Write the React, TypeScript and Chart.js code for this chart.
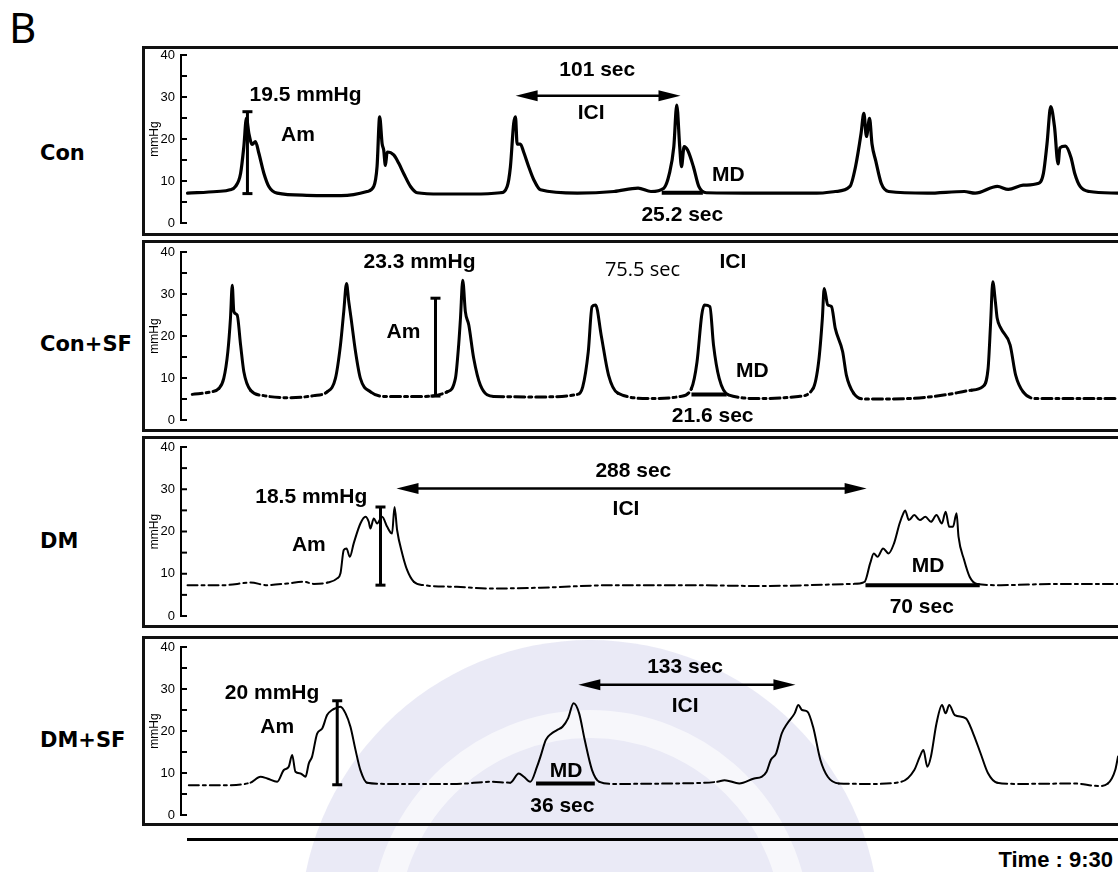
import React, { useEffect, useRef } from "react";
import { Chart, registerables } from "chart.js";

Chart.register(...registerables);

type Pt = [number, number];

// Intraluminal pressure recordings: [time (s), pressure (mmHg)]
const conTrace: Pt[] = [
  [0, 7.1], [18, 7.5], [26, 7.9], [29.4, 8.7], [32.5, 11.8], [34.5, 18.2], [36.1, 25], [37.6, 21.3],
  [39.6, 18.7], [41.6, 19.4], [43.7, 16.6], [46.8, 11.8], [49.8, 8.7], [54.9, 7.1], [73, 6.6], [94, 6.5],
  [110, 7.5], [114.1, 8.7], [116.1, 13.4], [117.7, 25.3], [119.2, 18.9], [120.2, 17.3], [121.2, 13.7],
  [122.3, 16.9], [126.3, 16.2], [129.4, 14.2], [132.4, 11.8], [136.6, 8.7], [140.7, 7.2], [155, 6.9],
  [175, 6.9], [191.7, 7.2], [195.8, 8.7], [197.8, 13.4], [199.8, 23.7], [200.9, 25.3], [201.9, 18.8],
  [203.9, 18.8], [205.9, 16.9], [209, 13.4], [212.1, 10.3], [216.2, 7.9], [238.8, 7.1], [261.3, 7.5],
  [276, 8.3], [283.9, 7.5], [291.8, 8.3], [295.2, 11.8], [297.9, 18.2], [299.7, 28.1], [301.5, 18.2],
  [302.6, 13.4], [304.2, 18.2], [306.4, 17.3], [309.9, 13.4], [313.2, 8.7], [317.8, 7.2], [351.6, 7.1],
  [385.5, 7.1], [396.8, 7.5], [405.8, 8.7], [409.2, 13.4], [412.6, 21.3], [414.3, 26.1], [415.9, 20.6],
  [417.8, 24.9], [419.3, 18.8], [421.6, 14.8], [425, 9.4], [429.5, 7.5], [453.2, 7.1], [475.8, 7.5],
  [482.5, 7.1], [496.1, 8.7], [502.8, 8.0], [511.9, 9.0], [520.9, 9.4], [524.3, 11.8], [526.5, 18.8],
  [528.8, 27.7], [531.1, 22.9], [533.3, 14.1], [534.4, 17.9], [537.8, 18.3], [541.2, 15.6], [543.5, 11.8],
  [546.8, 8.7], [552.5, 7.5], [570, 7.1],
];

const conSfTrace: Pt[] = [
  [2.9, 6.1], [14.1, 6.7], [19.2, 7.5], [22.2, 9.9], [24.7, 16.3], [26.3, 24.2], [27.4, 32.1], [28.4, 25.8],
  [30.4, 25], [32.5, 17.9], [34.5, 11.5], [38.6, 7.1], [46.7, 5.8], [63.1, 5.3], [77.3, 5.8], [85.5, 6.7],
  [90.6, 9.9], [93.7, 17.9], [95.7, 25.8], [97.4, 32.5], [98.8, 28.1], [100.2, 24.2], [102.9, 16.3],
  [105.9, 9.9], [112.1, 6.7], [122.3, 5.6], [144.7, 5.6], [159, 6.7], [164.1, 9.9], [166.1, 17.9],
  [167.2, 24.2], [168.6, 33.3], [170.2, 25.8], [172.3, 22.6], [175.3, 14.7], [179.4, 8.3], [187.6, 5.6],
  [216.2, 5.5], [238.8, 6.1], [242.1, 7.9], [245.5, 16.3], [247.8, 27], [250, 27.4], [253.4, 20.2],
  [257.9, 10.7], [263.6, 6.4], [283.9, 5.1], [301.9, 5.6], [308.7, 7.5], [312.1, 13.8], [315, 25],
  [316.6, 27.4], [320, 27], [322.2, 17.9], [325.7, 9.9], [331.3, 6], [351.6, 5.1], [374.2, 5.6],
  [383.2, 7.5], [386.6, 13.8], [388.9, 24.2], [390, 31.3], [392.2, 27.4], [394.5, 27], [396.8, 21.8],
  [401.3, 16.3], [403.6, 10.7], [408, 6.4], [414.8, 5], [441.9, 5.1], [464.4, 6], [480.2, 7.1], [487, 7.9],
  [490.4, 12.2], [492, 23.4], [493.3, 32.9], [494.9, 28.1], [496, 24.2], [498.3, 21.8], [503.9, 17.9],
  [507.3, 10.7], [511.9, 6.7], [520.9, 5.1], [570, 5.1],
];

const dmTrace: Pt[] = [
  [0, 7.3], [22.2, 7.3], [38.6, 7.9], [48.8, 7.3], [61.1, 7.7], [71.2, 8.1], [77.3, 7.6], [85.5, 7.9],
  [91.7, 8.9], [93.7, 10.1], [95.7, 15.6], [97.4, 16], [99.4, 14], [101.8, 17.2], [105.9, 21.9],
  [109, 23.5], [111, 22.3], [112, 20.7], [114.1, 23.1], [116.1, 21.9], [119.2, 23.5], [122.3, 21.1],
  [125.3, 19.5], [126.8, 25.8], [128.4, 20.3], [131.5, 14.8], [134.5, 10.9], [138.6, 8.1], [144.7, 7.3],
  [165, 6.9], [185.6, 6.5], [216.2, 6.7], [261.3, 7.3], [306.4, 7.3], [351.6, 7.1], [408, 7.6],
  [414.8, 8.1], [418.2, 12.5], [420.4, 14.8], [422.7, 14], [426.1, 16], [429.4, 14.8], [432.8, 17.2],
  [436.2, 21.9], [438.5, 24.3], [439.6, 25], [441.9, 22.7], [445.2, 23.9], [448.6, 22.7], [452, 23.5],
  [455.4, 22.3], [458.8, 23.9], [462.1, 21.9], [464.4, 24.7], [466.6, 21.1], [468.9, 21.1], [471.1, 24.3],
  [472.3, 18.8], [475.7, 13.3], [479.1, 9.3], [483.6, 7.6], [498.3, 7.3], [532.2, 7.6], [570, 7.6],
];

const dmSfTrace: Pt[] = [
  [0.8, 7.1], [22.2, 7.1], [38.6, 7.7], [44.7, 9.1], [48.8, 8.7], [54.9, 7.9], [59, 10.7], [62, 11.5],
  [64.1, 14.3], [66.1, 10.3], [69.2, 9.9], [72.3, 9.1], [74.3, 12.3], [76.3, 13.9], [79.4, 19.4],
  [82.5, 20.6], [85.5, 23.8], [88.6, 25], [90.6, 25.4], [93.7, 25.8], [96.8, 24.2], [99.8, 21],
  [102.9, 15.5], [105.9, 10.7], [110, 7.7], [124.3, 7.4], [165, 7.4], [185.6, 7.9], [197.8, 7.7],
  [202.9, 9.9], [206, 9.1], [210, 7.9], [214.1, 11.5], [216.2, 13.9], [219.5, 17.9], [223, 19.4],
  [226.3, 20.2], [229.7, 21], [233.1, 23], [236.5, 26.6], [239.9, 24.2], [243.3, 17.9], [247.8, 10.7],
  [252.3, 7.9], [261.3, 7.4], [295.2, 7.5], [324.5, 7.9], [329, 8.3], [338, 7.5], [347.1, 8.7],
  [351.6, 9.1], [354.7, 10.3], [357.3, 13.1], [360.6, 14.7], [364, 19.4], [367.4, 21.8], [371.9, 24.2],
  [374.2, 26.2], [376.4, 25], [379.8, 24.6], [383.2, 21], [387.7, 13.1], [392.2, 9.1], [399, 7.5],
  [419.3, 7.4], [437.3, 7.9], [445.2, 10.7], [448.6, 13.9], [450.8, 15.5], [453.2, 11.5], [455.4, 13.9],
  [458.8, 21.8], [462.2, 26.2], [464.4, 24.2], [466.6, 26.2], [470, 23.8], [476.8, 23], [481.3, 19.4],
  [485.8, 14.7], [490.3, 10], [496, 7.7], [509.6, 7.4], [543.5, 7.5], [558.1, 6.9], [563.8, 7.5],
  [568.3, 10.7], [570, 13.9],
];

const traces = [conTrace, conSfTrace, dmTrace, dmSfTrace];

// Group names and measured contraction parameters
const groupNames = ["Con", "Con+SF", "DM", "DM+SF"];
const baselineMmHg = [7.0, 5.7, 7.3, 7.2];
const amplitudeMmHg = [19.5, 23.3, 18.5, 20];
const iciSec = [101, 75.5, 288, 133];
const mdSec = [25.2, 21.6, 70, 36];
const yTickLabels = [0, 10, 20, 30, 40];
const timeWindowLabel = "Time : 9:30";

// Where each annotation sits on a panel (seconds, mmHg)
const notePlacement = [
  { amAt: 36.7, ampText: [72.3, 30.5], amText: [67.7, 20.9], iciFrom: 201, iciY: 30.3, iciArrow: true,
    iciText: [251, 36.3], iciBold: true, iciTag: [247.2, 26.1], mdMid: 303.1, mdY: 7.2, mdTag: [331.3, 11.3], mdText: [303.1, 1.9] },
  { amAt: 151.9, ampText: [142.1, 37.5], amText: [132.3, 20.8], iciFrom: 0, iciY: 0, iciArrow: false,
    iciText: [278.7, 35.7], iciBold: false, iciTag: [334.1, 37.5], mdMid: 319.5, mdY: 6.1, mdTag: [346, 11.7], mdText: [321.7, 0.8] },
  { amAt: 118.2, ampText: [75.8, 28], amText: [74.3, 16.8], iciFrom: 128, iciY: 30.2, iciArrow: true,
    iciText: [273.1, 34.2], iciBold: true, iciTag: [268.6, 25.3], mdMid: 450.3, mdY: 7.3, mdTag: [453.7, 11.9], mdText: [449.8, 2] },
  { amAt: 91.7, ampText: [51.8, 29], amText: [54.9, 20.8], iciFrom: 239.4, iciY: 31, iciArrow: true,
    iciText: [304.8, 35.1], iciBold: true, iciTag: [304.8, 25.8], mdMid: 231.5, mdY: 7.5, mdTag: [231.9, 10.5], mdText: [229.6, 2.2] },
];

// Panel geometry on the page
const PANEL_LEFT = 142;
const BORDER = 3;
const panelFrames = [
  { top: 46, bottom: 236, y40: 55, y0: 223, lineWidth: 3.2, dashBelow: 0, labelY: 153 },
  { top: 240, bottom: 432, y40: 252, y0: 420, lineWidth: 3, dashBelow: 7.6, labelY: 344 },
  { top: 436, bottom: 628, y40: 447, y0: 616, lineWidth: 2, dashBelow: 8.2, labelY: 541 },
  { top: 636, bottom: 826, y40: 647, y0: 815, lineWidth: 2, dashBelow: 8.0, labelY: 740 },
];

const BOLD_FONT = 'bold 21px "Liberation Sans", Arial, sans-serif';
const PLAIN_FONT = '20px "Open Sans", "Liberation Sans", sans-serif';

function noteLayer(i: number) {
  return {
    id: "noteLayer",
    afterDraw(chart: any) {
      const { ctx, chartArea } = chart;
      const xs = chart.scales.x;
      const ys = chart.scales.y;
      const X = (t: number) => xs.getPixelForValue(t);
      const Y = (v: number) => ys.getPixelForValue(v);
      const line = (x1: number, y1: number, x2: number, y2: number) => {
        ctx.beginPath();
        ctx.moveTo(x1, y1);
        ctx.lineTo(x2, y2);
        ctx.stroke();
      };
      const text = (s: string, at: number[], font: string) => {
        ctx.font = font;
        ctx.fillText(s, X(at[0]), Y(at[1]));
      };
      const head = (x: number, y: number, dir: number) => {
        ctx.beginPath();
        ctx.moveTo(x, y);
        ctx.lineTo(x - dir * 22, y - 5.5);
        ctx.lineTo(x - dir * 22, y + 5.5);
        ctx.closePath();
        ctx.fill();
      };

      ctx.save();
      ctx.strokeStyle = "#000";
      ctx.fillStyle = "#000";
      ctx.textAlign = "center";
      ctx.textBaseline = "middle";

      // inward tick marks on the pressure axis
      ctx.lineWidth = 2;
      for (const tk of ys.ticks) {
        const y = Y(tk.value);
        line(chartArea.left, y, chartArea.left + 6, y);
      }

      const p = notePlacement[i];
      const base = baselineMmHg[i];

      // amplitude bar (baseline to peak)
      const ax = X(p.amAt);
      const yb = Y(base);
      const yt = Y(base + amplitudeMmHg[i]);
      ctx.lineWidth = 3;
      line(ax, yb, ax, yt);
      line(ax - 5, yb, ax + 5, yb);
      line(ax - 5, yt, ax + 5, yt);
      text(`${amplitudeMmHg[i]} mmHg`, p.ampText, BOLD_FONT);
      text("Am", p.amText, BOLD_FONT);

      // inter-contraction interval
      if (p.iciArrow) {
        const x1 = X(p.iciFrom);
        const x2 = X(p.iciFrom + iciSec[i]);
        const y = Y(p.iciY);
        ctx.lineWidth = 2.5;
        line(x1 + 10, y, x2 - 10, y);
        head(x1, y, -1);
        head(x2, y, 1);
      }
      text(`${iciSec[i]} sec`, p.iciText, p.iciBold ? BOLD_FONT : PLAIN_FONT);
      text("ICI", p.iciTag, BOLD_FONT);

      // motility duration bar
      ctx.lineWidth = 4;
      ctx.lineCap = "butt";
      line(X(p.mdMid - mdSec[i] / 2), Y(p.mdY), X(p.mdMid + mdSec[i] / 2), Y(p.mdY));
      text("MD", p.mdTag, BOLD_FONT);
      text(`${mdSec[i]} sec`, p.mdText, BOLD_FONT);

      ctx.restore();
    },
  };
}

function TracePanel({ index }: { index: number }) {
  const ref = useRef<HTMLCanvasElement>(null);
  const f = panelFrames[index];
  const canvasTop = f.top + BORDER;
  const canvasH = f.bottom - f.top - 2 * BORDER;
  const canvasLeft = PANEL_LEFT + BORDER;
  const canvasW = 1118 - canvasLeft;

  useEffect(() => {
    const dashBelow = f.dashBelow;
    const chart = new Chart(ref.current as HTMLCanvasElement, {
      type: "line",
      data: {
        datasets: [
          {
            data: traces[index].map(([x, y]) => ({ x, y })),
            borderColor: "#000",
            borderWidth: f.lineWidth,
            pointRadius: 0,
            cubicInterpolationMode: "monotone",
            borderJoinStyle: "round",
            borderCapStyle: "round",
            fill: false,
            segment: {
              borderDash: (c: any) =>
                dashBelow > 0 && c.p0.parsed.y < dashBelow && c.p1.parsed.y < dashBelow ? [10, 4, 3, 4] : undefined,
            },
          } as any,
        ],
      },
      options: {
        animation: false,
        responsive: false,
        maintainAspectRatio: false,
        events: [],
        layout: { padding: { top: f.y40 - canvasTop, bottom: canvasTop + canvasH - f.y0, left: 0, right: 0 } },
        plugins: { legend: { display: false }, tooltip: { enabled: false } },
        scales: {
          x: { type: "linear", min: -4, max: 570, display: false },
          y: {
            min: 0,
            max: 40,
            afterFit: (s: any) => {
              s.width = 181 - canvasLeft;
              s.paddingTop = 0;
              s.paddingBottom = 0;
            },
            grid: { display: false, drawTicks: false },
            border: { display: true, color: "#000", width: 2 },
            ticks: {
              stepSize: 5,
              autoSkip: false,
              padding: 6,
              color: "#000",
              font: { family: '"Liberation Sans", Arial, sans-serif', size: 13 },
              callback: (v: any) => (yTickLabels.includes(Number(v)) ? String(v) : ""),
            },
            title: {
              display: true,
              text: "mmHg",
              color: "#000",
              font: { family: '"Liberation Sans", Arial, sans-serif', size: 12 },
              padding: { top: 2, bottom: 0 },
            },
          },
        },
      } as any,
      plugins: [noteLayer(index) as any],
    });
    return () => chart.destroy();
  }, [index]);

  return (
    <>
      <div
        style={{
          position: "absolute",
          left: PANEL_LEFT,
          top: f.top,
          width: 1118 - PANEL_LEFT + 20,
          height: f.bottom - f.top,
          border: `${BORDER}px solid #111`,
          boxSizing: "border-box",
        }}
      />
      <canvas
        ref={ref}
        width={canvasW}
        height={canvasH}
        style={{ position: "absolute", left: canvasLeft, top: canvasTop, width: canvasW, height: canvasH }}
      />
      <div
        style={{
          position: "absolute",
          left: 40,
          top: f.labelY - 12,
          font: 'bold 21px "DejaVu Sans", sans-serif',
          lineHeight: "24px",
          color: "#000",
          whiteSpace: "nowrap",
        }}
      >
        {groupNames[index]}
      </div>
    </>
  );
}

export default function App() {
  return (
    <div
      style={{
        position: "absolute",
        left: 0,
        top: 0,
        width: 1118,
        height: 872,
        overflow: "hidden",
        background: "#fff",
      }}
    >
      {/* faint emblem behind the lower panels */}
      <div
        style={{
          position: "absolute",
          left: 300,
          top: 640,
          width: 580,
          height: 580,
          borderRadius: "50%",
          background: "rgba(208,208,236,0.45)",
        }}
      >
        <div
          style={{
            position: "absolute",
            left: 70,
            top: 70,
            width: 440,
            height: 440,
            borderRadius: "50%",
            border: "28px solid rgba(255,255,255,0.6)",
            boxSizing: "border-box",
          }}
        />
      </div>

      <div
        style={{
          position: "absolute",
          left: 9,
          top: 6,
          font: '42px "Noto Sans", sans-serif',
          lineHeight: "42px",
          color: "#000",
        }}
      >
        B
      </div>

      {panelFrames.map((_, i) => (
        <TracePanel key={i} index={i} />
      ))}

      <div style={{ position: "absolute", left: 187, top: 838, width: 1118 - 187, height: 3, background: "#000" }} />
      <div
        style={{
          position: "absolute",
          right: 5,
          top: 849,
          font: 'bold 22px "Liberation Sans", Arial, sans-serif',
          lineHeight: "22px",
          color: "#000",
          whiteSpace: "nowrap",
        }}
      >
        {timeWindowLabel}
      </div>
    </div>
  );
}
